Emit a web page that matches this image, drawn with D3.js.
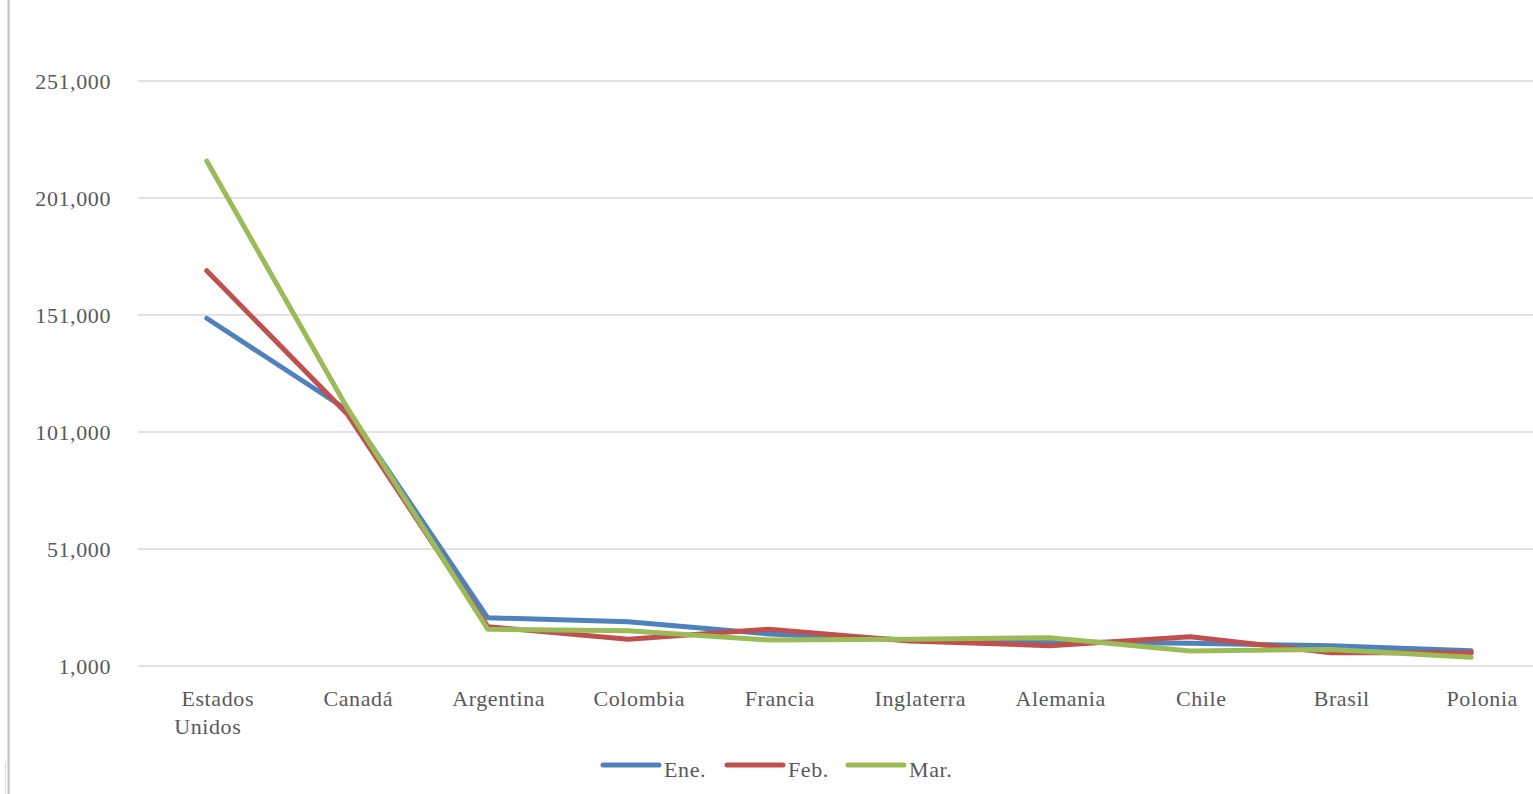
<!DOCTYPE html>
<html>
<head>
<meta charset="utf-8">
<script src="https://cdn.jsdelivr.net/npm/d3@7"></script>
<style>
  html, body { margin: 0; padding: 0; background: #fff; overflow: hidden; }
  svg { display: block; }
  text { font-family: "Liberation Serif", "Times New Roman", serif; fill: #595959; letter-spacing: 0.6px; }
</style>
</head>
<body>
<svg id="chart" width="1533" height="794"></svg>
<script>
const categories = ["Estados Unidos", "Canadá", "Argentina", "Colombia", "Francia", "Inglaterra", "Alemania", "Chile", "Brasil", "Polonia"];
const ene = [149600, 110400, 21600, 19900, 14700, 12100, 11400, 10700, 9700, 7500];
const feb = [169900, 108700, 17800, 12400, 16700, 11700, 9700, 13500, 6700, 6700];
const mar = [216800, 111300, 16700, 16100, 12100, 12400, 13100, 7400, 8100, 4700];
const seriesNames = ["Ene.", "Feb.", "Mar."];
const yTicks = [1000, 51000, 101000, 151000, 201000, 251000];

const seriesColors = ["#4F81BD", "#C0504D", "#9BBB59"];
const seriesData = [ene, feb, mar];

const svg = d3.select("#chart");

// container border line
svg.append("line").attr("x1", 8.5).attr("x2", 8.5).attr("y1", 0).attr("y2", 794)
  .attr("stroke", "#BFBFBF").attr("stroke-width", 2);
svg.append("line").attr("x1", 5.5).attr("x2", 5.5).attr("y1", 762).attr("y2", 794)
  .attr("stroke", "#D9D9E6").attr("stroke-width", 1);

const x = d3.scaleBand().domain(categories).range([136.5, 1541.5]).padding(0);
const y = d3.scaleLinear().domain([1000, 251000]).range([666, 81]);
const cx = d => x(d) + x.bandwidth() / 2;

// gridlines
svg.append("g").selectAll("line").data(yTicks).join("line")
  .attr("x1", 138).attr("x2", 1541)
  .attr("y1", d => y(d)).attr("y2", d => y(d))
  .attr("stroke", "#D9D9D9").attr("stroke-width", 1.5);

// y tick labels
const fmt = d3.format(",");
svg.append("g").selectAll("text").data(yTicks).join("text")
  .attr("x", 111).attr("y", d => y(d) + 8)
  .attr("text-anchor", "end")
  .attr("font-size", 22)
  .text(d => fmt(d));

// x labels
const xl = svg.append("g");
categories.forEach(c => {
  const parts = c === "Estados Unidos" ? ["Estados", "Unidos"] : [c];
  parts.forEach((p, i) => {
    xl.append("text")
      .attr("x", cx(c) + (i === 0 ? 11 : 1))
      .attr("y", 706 + i * 28)
      .attr("text-anchor", "middle")
      .attr("font-size", 22)
      .text(p);
  });
});

// lines
const line = d3.line().x((d, i) => cx(categories[i])).y(d => y(d));
seriesData.forEach((s, k) => {
  svg.append("path").datum(s)
    .attr("d", line)
    .attr("fill", "none")
    .attr("stroke", seriesColors[k])
    .attr("stroke-width", 5)
    .attr("stroke-linejoin", "round")
    .attr("stroke-linecap", "round");
});

// legend
const legendX = [603, 727, 848];
const leg = svg.append("g");
seriesNames.forEach((n, k) => {
  leg.append("line")
    .attr("x1", legendX[k]).attr("x2", legendX[k] + 56)
    .attr("y1", 765).attr("y2", 765)
    .attr("stroke", seriesColors[k]).attr("stroke-width", 5)
    .attr("stroke-linecap", "round");
  leg.append("text")
    .attr("x", legendX[k] + 61).attr("y", 777)
    .attr("font-size", 22)
    .text(n);
});
</script>
</body>
</html>
